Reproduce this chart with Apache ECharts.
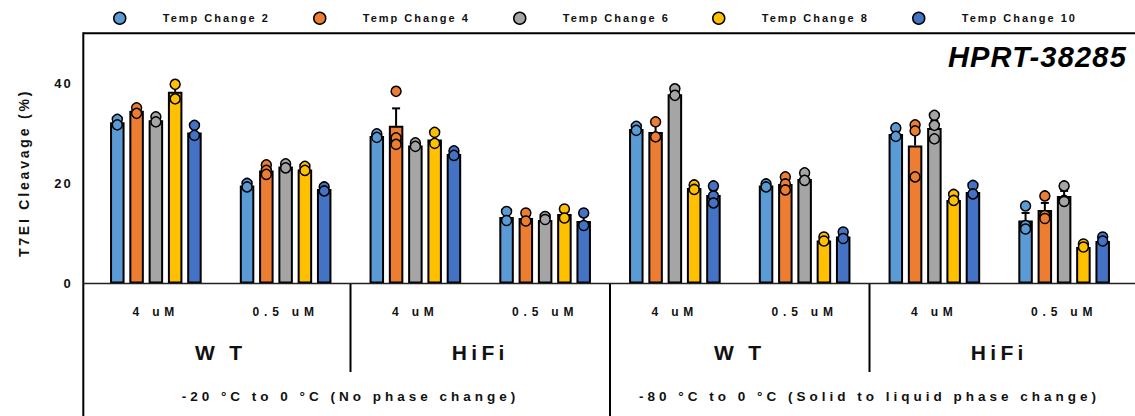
<!DOCTYPE html>
<html>
<head>
<meta charset="utf-8">
<script src="https://cdn.jsdelivr.net/npm/echarts@6/dist/echarts.min.js"></script>
<style>
  html, body { margin: 0; padding: 0; background: #fff; }
  #chart { width: 1135px; height: 416px; }
  /* tracking for the widely spaced labels, keyed on each label class's font size */
  #chart text[style*="11px"] { letter-spacing: 2px; }     /* legend */
  #chart text[style*="12px"] { letter-spacing: 4.8px; }   /* concentration labels */
  #chart text[style*="13px"] { letter-spacing: 2px; }     /* y tick labels */
  #chart text[style*="14px"] { letter-spacing: 2.8px; }   /* y axis title */
  #chart text[style*="13.5px"] { letter-spacing: 4px; }   /* temperature conditions */
  #chart text[style*="21px"] { letter-spacing: 4.3px; }   /* enzyme labels */
  #chart text[style*="29px"] { letter-spacing: 1.2px; }   /* chart title */
</style>
</head>
<body>
<div id="chart"></div>
<script>
// ---- data -------------------------------------------------------------
const categories = ['4 uM', '0.5 uM', '4 uM', '0.5 uM', '4 uM', '0.5 uM', '4 uM', '0.5 uM'];
const enzymes = ['W T', 'HiFi', 'W T', 'HiFi'];
const conditions = ['-20 °C to 0 °C (No phase change)', '-80 °C to 0 °C (Solid to liquid phase change)'];
const seriesNames = ['Temp Change 2', 'Temp Change 4', 'Temp Change 6', 'Temp Change 8', 'Temp Change 10'];
const yTicks = [0, 20, 40];

// mean T7EI cleavage (%) per category
const tc2Mean  = [32.2, 19.6, 29.5, 13.3, 30.9, 19.6, 29.9, 12.6];
const tc4Mean  = [34.5, 22.6, 31.5, 13.1, 30.3, 19.9, 27.6, 14.7];
const tc6Mean  = [32.6, 23.4, 27.6, 12.7, 37.8, 20.9, 31.1, 17.5];
const tc8Mean  = [38.3, 22.8, 28.8, 13.9, 19.1, 8.6, 16.7, 7.3];
const tc10Mean = [30.2, 18.9, 25.9, 12.5, 17.7, 9.4, 18.3, 8.5];

// standard error of the mean
const tc2Err  = [0.5, 0.4, 0.4, 0.9, 0.4, 0.3, 0.9, 1.5];
const tc4Err  = [0.6, 0.5, 3.5, 0.8, 1.5, 0.8, 3.3, 1.4];
const tc6Err  = [0.5, 0.4, 0.4, 0.4, 0.7, 0.8, 1.4, 1.0];
const tc8Err  = [1.4, 0.4, 1.1, 0.9, 0.5, 0.4, 0.6, 0.3];
const tc10Err = [1.0, 0.4, 0.5, 1.3, 1.0, 0.7, 0.9, 0.4];

// individual replicates
const tc2Points  = [[32.8, 31.7], [20.0, 19.3], [29.9, 29.2], [14.4, 12.6], [31.4, 30.6], [19.9, 19.3], [31.1, 29.4], [15.5, 11.6, 10.9]];
const tc4Points  = [[35.1, 34.0], [23.7, 22.6, 21.8], [38.4, 29.1, 27.8], [14.1, 12.5], [32.3, 29.3], [21.3, 19.9, 18.7], [31.7, 30.5, 21.3], [17.5, 13.6, 13.0]];
const tc6Points  = [[33.3, 32.3], [23.9, 23.1], [28.1, 27.4], [13.4, 12.8], [38.9, 37.6], [22.1, 20.6], [33.6, 31.6, 28.9], [19.5, 16.6, 16.4]];
const tc8Points  = [[39.8, 36.9], [23.4, 22.6], [30.2, 28.0], [14.9, 13.1], [19.7, 18.8], [9.3, 8.5], [17.8, 16.6], [7.9, 7.3]];
const tc10Points = [[31.6, 29.6], [19.3, 18.5], [26.5, 25.6], [14.1, 11.6], [19.5, 17.5, 16.1], [10.3, 9.0], [19.6, 17.9], [9.3, 8.5]];

// category boundaries that get a divider below the axis: enzyme breaks and the condition break
const enzymeBreaks = [2, 6];
const conditionBreaks = [4];

// ---- styling ------------------------------------------------------------
const FONT = 'Liberation Sans, Arial, Helvetica, sans-serif';
const INK = '#111';
const COLORS = ['#5B9BD5', '#ED7D31', '#A5A5A5', '#FFC000', '#4472C4'];
const BAR_WIDTH = 14.5;
const BAR_GAP = 0.33;
const BAR_STEP = BAR_WIDTH * (1 + BAR_GAP);
const LEGEND_CENTERS = [119, 319, 519, 718, 918];

const groups = [
  { mean: tc2Mean,  err: tc2Err,  points: tc2Points },
  { mean: tc4Mean,  err: tc4Err,  points: tc4Points },
  { mean: tc6Mean,  err: tc6Err,  points: tc6Points },
  { mean: tc8Mean,  err: tc8Err,  points: tc8Points },
  { mean: tc10Mean, err: tc10Err, points: tc10Points }
];

const chart = echarts.init(document.getElementById('chart'), null, { renderer: 'svg' });

const series = [];
groups.forEach(function (g, s) {
  const offset = (s - (groups.length - 1) / 2) * BAR_STEP;
  series.push({
    name: seriesNames[s],
    type: 'bar',
    data: g.mean,
    barWidth: BAR_WIDTH,
    barGap: (BAR_GAP * 100) + '%',
    z: 2,
    itemStyle: { color: COLORS[s], borderColor: '#000', borderWidth: 2 },
    silent: true
  });
  // upper error bars
  series.push({
    name: seriesNames[s],
    type: 'custom',
    z: 3,
    silent: true,
    encode: { x: 0, y: 1 },
    data: g.mean.map(function (m, i) { return [i, m, g.err[i]]; }),
    renderItem: function (params, api) {
      const top = api.coord([api.value(0), api.value(1) + api.value(2)]);
      const mid = api.coord([api.value(0), api.value(1)]);
      const x = mid[0] + offset;
      return {
        type: 'group',
        children: [
          { type: 'line', shape: { x1: x, y1: mid[1], x2: x, y2: top[1] }, style: { stroke: '#000', lineWidth: 2 } },
          { type: 'line', shape: { x1: x - 4, y1: top[1], x2: x + 4, y2: top[1] }, style: { stroke: '#000', lineWidth: 2 } }
        ]
      };
    }
  });
  // replicate dots
  const pts = [];
  g.points.forEach(function (list, i) { list.forEach(function (v) { pts.push([i, v]); }); });
  series.push({
    name: seriesNames[s],
    type: 'custom',
    z: 4,
    silent: true,
    encode: { x: 0, y: 1 },
    data: pts,
    renderItem: function (params, api) {
      const p = api.coord([api.value(0), api.value(1)]);
      return {
        type: 'circle',
        shape: { cx: p[0] + offset, cy: p[1], r: 5 },
        style: { fill: COLORS[s], stroke: '#000', lineWidth: 1.5 }
      };
    }
  });
});

// dividers between the enzyme / condition blocks below the axis
const dividerData = enzymeBreaks.map(function (b) { return [b, 0]; })
  .concat(conditionBreaks.map(function (b) { return [b, 1]; }));
series.push({
  type: 'custom',
  z: 1,
  silent: true,
  encode: { x: 0, y: 1 },
  data: dividerData,
  renderItem: function (params, api) {
    const base = api.coord([api.value(0), 0]);
    const x = base[0] - api.size([1, 0])[0] / 2;
    const y2 = api.value(1) ? api.getHeight() : base[1] + 88.5;
    return { type: 'line', shape: { x1: x, y1: base[1], x2: x, y2: y2 }, style: { stroke: '#000', lineWidth: 2 } };
  }
});

const legends = seriesNames.map(function (name, i) {
  return {
    data: [name],
    left: LEGEND_CENTERS[i] - 6,
    top: 11.5,
    padding: 0,
    icon: 'circle',
    itemWidth: 12,
    itemHeight: 12,
    selectedMode: false,
    itemStyle: { borderColor: '#000', borderWidth: 1.5 },
    textStyle: { fontSize: 11, fontWeight: 'bold', fontFamily: FONT, color: INK, padding: [0, 0, 0, 32] }
  };
});

function hiddenAxisParts() {
  return { axisLine: { show: false }, axisTick: { show: false }, splitLine: { show: false } };
}

chart.setOption({
  animation: false,
  backgroundColor: '#fff',
  title: {
    text: 'HPRT-38285',
    right: 20,
    top: 42,
    padding: 0,
    textStyle: { fontSize: 29, fontWeight: 'bold', fontStyle: 'italic', fontFamily: FONT, color: '#000' }
  },
  legend: legends,
  grid: { left: 91, right: 6, top: 33.3, bottom: 132.5 },
  xAxis: [
    Object.assign({
      type: 'category', data: categories, position: 'bottom',
      axisLabel: { interval: 0, margin: 22.5, fontSize: 12, fontWeight: 'bold', fontFamily: FONT, color: INK }
    }, hiddenAxisParts()),
    Object.assign({
      type: 'category', data: enzymes, position: 'bottom',
      axisLabel: { interval: 0, margin: 58.5, fontSize: 21, fontWeight: 'bold', fontFamily: FONT, color: INK }
    }, hiddenAxisParts()),
    Object.assign({
      type: 'category', data: conditions, position: 'bottom',
      axisLabel: { interval: 0, margin: 105.5, fontSize: 13.5, fontWeight: 'bold', fontFamily: FONT, color: INK }
    }, hiddenAxisParts())
  ],
  yAxis: Object.assign({
    type: 'value', min: yTicks[0], max: 50, interval: yTicks[1] - yTicks[0],
    axisLabel: { margin: 18.3, fontSize: 13, fontWeight: 'bold', fontFamily: FONT, color: INK, showMaxLabel: false }
  }, hiddenAxisParts()),
  series: series
});

// frame: top rule, left rule running down through the label area, baseline
const yBase = chart.convertToPixel({ yAxisIndex: 0 }, 0);
const yTop = chart.convertToPixel({ yAxisIndex: 0 }, 50);
const W = chart.getWidth(), H = chart.getHeight();
const frameLeft = 83.3;
chart.setOption({
  graphic: [
    { type: 'line', silent: true, z: 5, shape: { x1: frameLeft, y1: yTop, x2: W, y2: yTop }, style: { stroke: '#000', lineWidth: 2 } },
    { type: 'line', silent: true, z: 5, shape: { x1: frameLeft, y1: yTop - 1, x2: frameLeft, y2: H }, style: { stroke: '#000', lineWidth: 2 } },
    { type: 'line', silent: true, z: 5, shape: { x1: frameLeft, y1: yBase, x2: W, y2: yBase }, style: { stroke: '#222', lineWidth: 1.6 } },
    {
      type: 'text', silent: true, x: 24, y: 173, rotation: Math.PI / 2,
      style: { text: 'T7EI Cleavage (%)', fontSize: 14, fontWeight: 'bold', fontFamily: FONT, fill: INK, align: 'center', verticalAlign: 'middle' }
    }
  ]
});
</script>
</body>
</html>
